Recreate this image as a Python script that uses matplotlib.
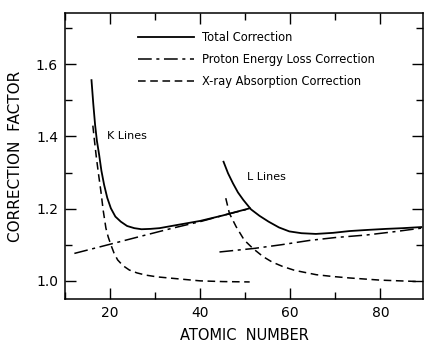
import matplotlib.pyplot as plt
from matplotlib.ticker import MultipleLocator
from matplotlib.lines import Line2D

# K lines
k_total_z = [15.9, 16.3, 16.7, 17.1, 17.6, 18.1, 18.7, 19.4, 20.2, 21.2, 22.4, 23.8, 25.4, 27.0, 29.0, 31.0, 35.0, 40.0, 45.0, 51.0]
k_total_cf = [1.556, 1.490, 1.432, 1.388, 1.349, 1.305, 1.266, 1.230, 1.201, 1.178, 1.164, 1.152, 1.146, 1.143, 1.144, 1.146, 1.155, 1.166, 1.181, 1.201]
k_proton_z = [12.1, 20.2, 27.0, 33.9, 40.0, 46.5, 51.0]
k_proton_cf = [1.076, 1.102, 1.124, 1.146, 1.164, 1.186, 1.200]
k_xray_z = [16.2, 16.6, 17.0, 17.5, 18.0, 18.5, 19.1, 19.6, 20.2, 20.9, 21.7, 22.9, 24.3, 26.0, 27.9, 30.5, 33.9, 40.0, 45.0, 51.0]
k_xray_cf = [1.430, 1.384, 1.340, 1.292, 1.247, 1.195, 1.146, 1.122, 1.100, 1.077, 1.058, 1.042, 1.030, 1.022, 1.016, 1.011, 1.007, 1.000, 0.998, 0.997]

# L lines
l_total_z = [45.2, 46.2, 47.3, 48.4, 49.6, 51.3, 53.2, 55.2, 57.5, 59.8, 62.5, 65.7, 69.5, 73.2, 77.0, 81.3, 85.0, 89.1]
l_total_cf = [1.330, 1.298, 1.270, 1.245, 1.224, 1.198, 1.180, 1.164, 1.148, 1.137, 1.132, 1.130, 1.133, 1.138, 1.141, 1.144, 1.146, 1.149]
l_proton_z = [44.3, 52.1, 58.0, 64.3, 70.0, 76.9, 83.0, 89.1]
l_proton_cf = [1.080, 1.090, 1.100, 1.112, 1.120, 1.127, 1.136, 1.146]
l_xray_z = [45.7, 46.5, 48.0, 49.8, 51.7, 54.0, 56.0, 58.3, 61.0, 65.8, 69.5, 73.2, 80.0, 88.7]
l_xray_cf = [1.229, 1.187, 1.150, 1.113, 1.090, 1.067, 1.052, 1.040, 1.029, 1.017, 1.012, 1.008, 1.002, 0.998]

legend_labels = ["Total Correction", "Proton Energy Loss Correction", "X-ray Absorption Correction"]

plt.rcParams['font.family'] = 'DejaVu Sans'
fig = plt.figure(figsize=(4.27, 3.42), dpi=100)
ax = fig.add_axes([0.152, 0.126, 0.839, 0.836])

solid = dict(color="black", lw=1.3, linestyle="-")
dashdot = dict(color="black", lw=1.1, dashes=(9, 3, 2, 3))
dashed = dict(color="black", lw=1.1, dashes=(5, 3))

ax.plot(k_total_z, k_total_cf, **solid)
ax.plot(k_proton_z, k_proton_cf, **dashdot)
ax.plot(k_xray_z, k_xray_cf, **dashed)
ax.plot(l_total_z, l_total_cf, **solid)
ax.plot(l_proton_z, l_proton_cf, **dashdot)
ax.plot(l_xray_z, l_xray_cf, **dashed)

ax.text(19.3, 1.40, "K Lines", fontsize=8, va="center")
ax.text(50.5, 1.289, "L Lines", fontsize=8, va="center")

handles = [Line2D([], [], **solid), Line2D([], [], **dashdot), Line2D([], [], **dashed)]
ax.legend(handles, legend_labels, loc="upper left", bbox_to_anchor=(0.203, 0.937),
          frameon=False, fontsize=8.3, handlelength=4.85, handletextpad=0.73,
          labelspacing=0.78, borderpad=0, borderaxespad=0)

ax.set_xlim(10, 89.5)
ax.set_ylim(0.95, 1.742)
ax.xaxis.set_major_locator(MultipleLocator(20))
ax.xaxis.set_minor_locator(MultipleLocator(10))
ax.yaxis.set_major_locator(MultipleLocator(0.2))
ax.yaxis.set_minor_locator(MultipleLocator(0.1))
ax.yaxis.set_major_formatter(plt.FuncFormatter(lambda v, p: f"{v:.1f}"))
ax.tick_params(which="both", direction="in", top=True, right=True, width=1.0, labelsize=10, pad=5)
ax.tick_params(which="major", length=8)
ax.tick_params(which="minor", length=5)
for s in ax.spines.values():
    s.set_linewidth(1.1)

ax.set_xlabel("ATOMIC  NUMBER", fontsize=10.5, labelpad=6)
ax.set_ylabel("CORRECTION  FACTOR", fontsize=11, labelpad=9)

fig.savefig("out.png", dpi=100)
